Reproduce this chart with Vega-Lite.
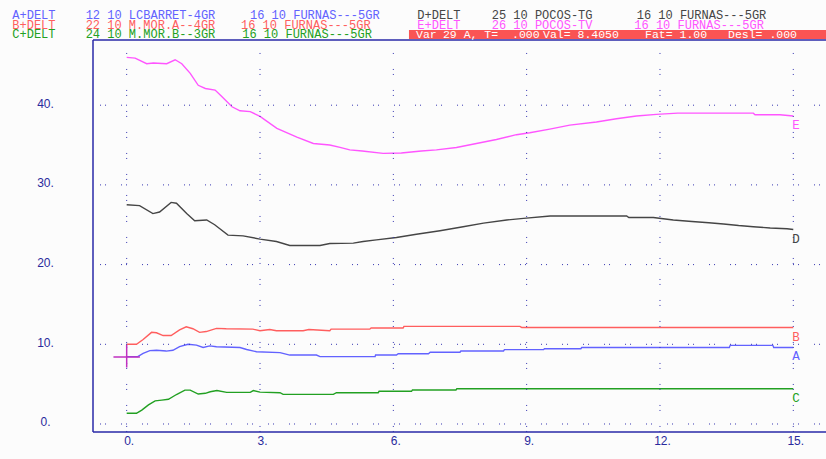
{
  "$schema": "https://vega.github.io/schema/vega-lite/v6.json",
  "width": 733,
  "height": 392,
  "padding": {"left": 93, "top": 40, "right": 0, "bottom": 27},
  "autosize": {"type": "none"},
  "background": "#fcfcfc",
  "config": {
    "view": {"stroke": null},
    "font": "Liberation Sans",
    "axis": {"domain": false, "ticks": false, "tickSize": 0, "grid": false, "labelColor": "#2a2a9c", "labelFont": "Liberation Sans", "labelFontSize": 12, "labelFlush": false, "labelOverlap": false, "labelBound": false}
  },
  "datasets": {
    "series": [
      {"s":"A","t":0,"v":8.45},{"s":"A","t":0.25,"v":8.45},{"s":"A","t":0.37,"v":8.85},{"s":"A","t":0.52,"v":9.2},{"s":"A","t":0.67,"v":9.25},{"s":"A","t":0.89,"v":9.15},{"s":"A","t":1.04,"v":9.25},{"s":"A","t":1.19,"v":9.7},{"s":"A","t":1.38,"v":10.0},{"s":"A","t":1.57,"v":9.9},{"s":"A","t":1.72,"v":9.6},{"s":"A","t":1.87,"v":9.8},{"s":"A","t":2.02,"v":9.7},{"s":"A","t":2.55,"v":9.6},{"s":"A","t":2.7,"v":9.35},{"s":"A","t":2.92,"v":9.07},{"s":"A","t":3.45,"v":8.95},{"s":"A","t":3.67,"v":8.65},{"s":"A","t":4.27,"v":8.65},{"s":"A","t":4.35,"v":8.45},{"s":"A","t":5.59,"v":8.45},{"s":"A","t":5.6,"v":8.65},{"s":"A","t":6.07,"v":8.65},{"s":"A","t":6.11,"v":8.82},{"s":"A","t":6.79,"v":8.82},{"s":"A","t":6.83,"v":9.0},{"s":"A","t":7.5,"v":9.0},{"s":"A","t":7.52,"v":9.16},{"s":"A","t":8.48,"v":9.16},{"s":"A","t":8.5,"v":9.33},{"s":"A","t":9.38,"v":9.33},{"s":"A","t":9.4,"v":9.45},{"s":"A","t":10.22,"v":9.45},{"s":"A","t":10.24,"v":9.6},{"s":"A","t":13.56,"v":9.6},{"s":"A","t":13.58,"v":9.87},{"s":"A","t":14.54,"v":9.87},{"s":"A","t":14.56,"v":9.6},{"s":"A","t":15,"v":9.6},
      {"s":"B","t":0,"v":10.0},{"s":"B","t":0.22,"v":10.0},{"s":"B","t":0.37,"v":10.6},{"s":"B","t":0.56,"v":11.5},{"s":"B","t":0.67,"v":11.45},{"s":"B","t":0.82,"v":11.1},{"s":"B","t":1.0,"v":11.1},{"s":"B","t":1.19,"v":11.8},{"s":"B","t":1.34,"v":12.2},{"s":"B","t":1.49,"v":11.95},{"s":"B","t":1.64,"v":11.5},{"s":"B","t":1.79,"v":11.6},{"s":"B","t":2.02,"v":12.0},{"s":"B","t":2.24,"v":11.95},{"s":"B","t":2.84,"v":11.9},{"s":"B","t":3.0,"v":11.7},{"s":"B","t":3.22,"v":11.85},{"s":"B","t":3.37,"v":11.7},{"s":"B","t":3.97,"v":11.7},{"s":"B","t":4.1,"v":11.85},{"s":"B","t":4.57,"v":11.7},{"s":"B","t":4.6,"v":11.9},{"s":"B","t":5.47,"v":11.9},{"s":"B","t":5.5,"v":12.05},{"s":"B","t":6.22,"v":12.05},{"s":"B","t":6.24,"v":12.25},{"s":"B","t":8.85,"v":12.25},{"s":"B","t":8.89,"v":12.1},{"s":"B","t":15,"v":12.1},
      {"s":"C","t":0,"v":1.34},{"s":"C","t":0.22,"v":1.34},{"s":"C","t":0.34,"v":1.75},{"s":"C","t":0.49,"v":2.4},{"s":"C","t":0.64,"v":2.9},{"s":"C","t":0.79,"v":3.0},{"s":"C","t":0.94,"v":3.1},{"s":"C","t":1.12,"v":3.7},{"s":"C","t":1.31,"v":4.25},{"s":"C","t":1.43,"v":4.25},{"s":"C","t":1.61,"v":3.76},{"s":"C","t":1.77,"v":3.85},{"s":"C","t":1.88,"v":4.05},{"s":"C","t":2.03,"v":4.2},{"s":"C","t":2.25,"v":3.97},{"s":"C","t":2.78,"v":3.97},{"s":"C","t":2.85,"v":4.2},{"s":"C","t":3.0,"v":4.0},{"s":"C","t":3.45,"v":3.93},{"s":"C","t":3.52,"v":3.72},{"s":"C","t":4.65,"v":3.72},{"s":"C","t":4.72,"v":3.93},{"s":"C","t":5.66,"v":3.93},{"s":"C","t":5.68,"v":4.1},{"s":"C","t":6.41,"v":4.1},{"s":"C","t":6.43,"v":4.27},{"s":"C","t":7.41,"v":4.27},{"s":"C","t":7.43,"v":4.43},{"s":"C","t":15,"v":4.43},
      {"s":"D","t":0,"v":27.5},{"s":"D","t":0.29,"v":27.4},{"s":"D","t":0.59,"v":26.4},{"s":"D","t":0.74,"v":26.6},{"s":"D","t":1.0,"v":27.8},{"s":"D","t":1.12,"v":27.7},{"s":"D","t":1.35,"v":26.4},{"s":"D","t":1.53,"v":25.5},{"s":"D","t":1.8,"v":25.6},{"s":"D","t":1.98,"v":25.0},{"s":"D","t":2.28,"v":23.7},{"s":"D","t":2.62,"v":23.6},{"s":"D","t":3.0,"v":23.2},{"s":"D","t":3.37,"v":22.9},{"s":"D","t":3.67,"v":22.4},{"s":"D","t":4.35,"v":22.4},{"s":"D","t":4.57,"v":22.65},{"s":"D","t":5.1,"v":22.7},{"s":"D","t":5.32,"v":22.9},{"s":"D","t":5.62,"v":23.1},{"s":"D","t":6.07,"v":23.4},{"s":"D","t":6.52,"v":23.8},{"s":"D","t":7.05,"v":24.25},{"s":"D","t":7.57,"v":24.75},{"s":"D","t":8.03,"v":25.2},{"s":"D","t":8.55,"v":25.6},{"s":"D","t":8.93,"v":25.8},{"s":"D","t":9.53,"v":26.1},{"s":"D","t":11.25,"v":26.1},{"s":"D","t":11.3,"v":25.9},{"s":"D","t":11.85,"v":25.9},{"s":"D","t":12.3,"v":25.6},{"s":"D","t":12.72,"v":25.4},{"s":"D","t":13.1,"v":25.25},{"s":"D","t":13.43,"v":25.1},{"s":"D","t":13.77,"v":24.9},{"s":"D","t":14.1,"v":24.75},{"s":"D","t":14.48,"v":24.6},{"s":"D","t":14.86,"v":24.5},{"s":"D","t":15,"v":24.4},
      {"s":"E","t":0,"v":46.0},{"s":"E","t":0.19,"v":45.9},{"s":"E","t":0.45,"v":45.2},{"s":"E","t":0.6,"v":45.3},{"s":"E","t":0.9,"v":45.2},{"s":"E","t":1.09,"v":45.7},{"s":"E","t":1.24,"v":45.2},{"s":"E","t":1.43,"v":44.0},{"s":"E","t":1.61,"v":42.5},{"s":"E","t":1.77,"v":42.1},{"s":"E","t":1.99,"v":41.9},{"s":"E","t":2.14,"v":41.1},{"s":"E","t":2.37,"v":39.8},{"s":"E","t":2.55,"v":39.3},{"s":"E","t":2.78,"v":39.2},{"s":"E","t":3.0,"v":38.6},{"s":"E","t":3.38,"v":37.1},{"s":"E","t":3.83,"v":36.0},{"s":"E","t":4.2,"v":35.2},{"s":"E","t":4.57,"v":35.0},{"s":"E","t":4.8,"v":34.7},{"s":"E","t":5.02,"v":34.4},{"s":"E","t":5.3,"v":34.25},{"s":"E","t":5.77,"v":33.96},{"s":"E","t":6.18,"v":34.0},{"s":"E","t":6.63,"v":34.25},{"s":"E","t":6.97,"v":34.4},{"s":"E","t":7.42,"v":34.7},{"s":"E","t":7.87,"v":35.2},{"s":"E","t":8.32,"v":35.7},{"s":"E","t":8.77,"v":36.3},{"s":"E","t":9.07,"v":36.55},{"s":"E","t":9.52,"v":37.0},{"s":"E","t":9.97,"v":37.5},{"s":"E","t":10.57,"v":37.9},{"s":"E","t":11.02,"v":38.3},{"s":"E","t":11.47,"v":38.65},{"s":"E","t":11.92,"v":38.85},{"s":"E","t":12.4,"v":39.0},{"s":"E","t":14.1,"v":39.0},{"s":"E","t":14.14,"v":38.8},{"s":"E","t":14.7,"v":38.8},{"s":"E","t":15,"v":38.65}
    ],
    "header": [
      {"s":"A","t":-2.574,"v":51.32,"text":"A+DELT"},
      {"s":"A","t":-0.923,"v":51.32,"text":"12 10 LCBARRET-4GR"},
      {"s":"A","t":2.775,"v":51.32,"text":"16 10 FURNAS---5GR"},
      {"s":"B","t":-2.574,"v":50.1,"text":"B+DELT"},
      {"s":"B","t":-0.923,"v":50.1,"text":"22 10 M.MOR.A--4GR"},
      {"s":"B","t":2.572,"v":50.1,"text":"16 10 FURNAS---5GR"},
      {"s":"C","t":-2.574,"v":48.91,"text":"C+DELT"},
      {"s":"C","t":-0.923,"v":48.91,"text":"24 10 M.MOR.B--3GR"},
      {"s":"C","t":2.6,"v":48.91,"text":"16 10 FURNAS---5GR"},
      {"s":"D","t":6.539,"v":51.32,"text":"D+DELT"},
      {"s":"D","t":8.213,"v":51.32,"text":"25 10 POCOS-TG"},
      {"s":"D","t":11.476,"v":51.32,"text":"16 10 FURNAS---5GR"},
      {"s":"E","t":6.539,"v":50.1,"text":"E+DELT"},
      {"s":"E","t":8.213,"v":50.1,"text":"26 10 POCOS-TV"},
      {"s":"E","t":11.422,"v":50.1,"text":"16 10 FURNAS---5GR"}
    ],
    "info": [
      {"t":6.51,"v":48.77,"text":"Var"},
      {"t":7.117,"v":48.77,"text":"29 A, T="},
      {"t":8.67,"v":48.77,"text":".000"},
      {"t":9.368,"v":48.77,"text":"Val= 8.4050"},
      {"t":11.663,"v":48.77,"text":"Fat= 1.00"},
      {"t":13.531,"v":48.77,"text":"Desl= .000"}
    ],
    "hgrid": [{"v":0},{"v":10},{"v":20},{"v":30},{"v":40}],
    "vgrid": [{"t":0},{"t":3},{"t":6},{"t":9},{"t":12},{"t":15}],
    "cursor": [{"t":0,"v":8.405}]
  },
  "layer": [
    {
      "data": {"name": "series"},
      "mark": {"type": "line", "strokeWidth": 1.4},
      "encoding": {
        "x": {"field": "t", "type": "quantitative", "scale": {"domain": [-0.758, 15.736], "nice": false, "zero": false},
          "axis": {"values": [0, 3, 6, 9, 12, 15], "labelExpr": "datum.value + '.'", "title": null, "domain": false, "ticks": false, "grid": false, "labelPadding": 3, "labelOffset": 2}},
        "y": {"field": "v", "type": "quantitative", "scale": {"domain": [-1.004, 48.18], "nice": false, "zero": false},
          "axis": {"values": [0, 10, 20, 30, 40], "labelExpr": "datum.value + '.'", "title": null, "domain": false, "ticks": false, "grid": false, "labelPadding": 0, "offset": 48, "labelAlign": "center", "labelBaseline": "middle", "labelOffset": -2}},
        "color": {"field": "s", "type": "nominal", "scale": {"domain": ["A", "B", "C", "D", "E"], "range": ["#6262ff", "#ff5e5e", "#22a022", "#454545", "#ff55ff"]}, "legend": null}
      }
    },
    {
      "data": {"name": "hgrid"},
      "mark": {"type": "rule", "color": "#3434b0", "strokeDash": [1, 4, 1, 15], "strokeWidth": 1},
      "encoding": {
        "y": {"field": "v", "type": "quantitative", "scale": {"domain": [-1.004, 48.18], "nice": false, "zero": false}},
        "x": {"datum": -0.6, "type": "quantitative", "scale": {"domain": [-0.758, 15.736], "nice": false, "zero": false}},
        "x2": {"datum": 15.736}
      }
    },
    {
      "data": {"name": "vgrid"},
      "mark": {"type": "rule", "color": "#3434b0", "strokeDash": [1, 4, 1, 15], "strokeWidth": 1},
      "encoding": {
        "x": {"field": "t", "type": "quantitative", "scale": {"domain": [-0.758, 15.736], "nice": false, "zero": false}},
        "y": {"datum": -1.0, "type": "quantitative", "scale": {"domain": [-1.004, 48.18], "nice": false, "zero": false}},
        "y2": {"datum": 47.0}
      }
    },
    {
      "data": {"values": [{}]},
      "mark": {"type": "rule", "color": "#2a2aa8", "strokeWidth": 1.5},
      "encoding": {
        "x": {"datum": -0.758, "type": "quantitative", "scale": {"domain": [-0.758, 15.736], "nice": false, "zero": false}},
        "y": {"datum": -1.004, "type": "quantitative", "scale": {"domain": [-1.004, 48.18], "nice": false, "zero": false}},
        "y2": {"datum": 48.18}
      }
    },
    {
      "data": {"values": [{"v": -1.004}, {"v": 48.18}]},
      "mark": {"type": "rule", "color": "#2a2aa8", "strokeWidth": 1.5},
      "encoding": {
        "y": {"field": "v", "type": "quantitative", "scale": {"domain": [-1.004, 48.18], "nice": false, "zero": false}},
        "x": {"datum": -0.758, "type": "quantitative", "scale": {"domain": [-0.758, 15.736], "nice": false, "zero": false}},
        "x2": {"datum": 15.736}
      }
    },
    {
      "data": {"values": [{}]},
      "mark": {"type": "rect", "color": "#fa5454"},
      "encoding": {
        "x": {"datum": 6.352, "type": "quantitative", "scale": {"domain": [-0.758, 15.736], "nice": false, "zero": false}},
        "x2": {"datum": 15.736},
        "y": {"datum": 49.44, "type": "quantitative", "scale": {"domain": [-1.004, 48.18], "nice": false, "zero": false}},
        "y2": {"datum": 48.31}
      }
    },
    {
      "data": {"name": "info"},
      "mark": {"type": "text", "align": "left", "baseline": "middle", "font": "Liberation Mono", "fontSize": 11.5, "color": "#ffffff"},
      "encoding": {
        "x": {"field": "t", "type": "quantitative", "scale": {"domain": [-0.758, 15.736], "nice": false, "zero": false}},
        "y": {"field": "v", "type": "quantitative", "scale": {"domain": [-1.004, 48.18], "nice": false, "zero": false}},
        "text": {"field": "text"}
      }
    },
    {
      "data": {"name": "header"},
      "mark": {"type": "text", "align": "left", "baseline": "middle", "font": "Liberation Mono", "fontSize": 12},
      "encoding": {
        "x": {"field": "t", "type": "quantitative", "scale": {"domain": [-0.758, 15.736], "nice": false, "zero": false}},
        "y": {"field": "v", "type": "quantitative", "scale": {"domain": [-1.004, 48.18], "nice": false, "zero": false}},
        "text": {"field": "text"},
        "color": {"field": "s", "type": "nominal", "scale": {"domain": ["A", "B", "C", "D", "E"], "range": ["#6262ff", "#ff5e5e", "#22a022", "#454545", "#ff55ff"]}, "legend": null}
      }
    },
    {
      "data": {"name": "series"},
      "transform": [{"filter": "datum.t == 15"}],
      "mark": {"type": "text", "align": "left", "baseline": "top", "dx": -1, "dy": 3, "font": "Liberation Mono", "fontSize": 12.5},
      "encoding": {
        "x": {"field": "t", "type": "quantitative", "scale": {"domain": [-0.758, 15.736], "nice": false, "zero": false}},
        "y": {"field": "v", "type": "quantitative", "scale": {"domain": [-1.004, 48.18], "nice": false, "zero": false}},
        "text": {"field": "s"},
        "color": {"field": "s", "type": "nominal", "scale": {"domain": ["A", "B", "C", "D", "E"], "range": ["#6262ff", "#ff5e5e", "#22a022", "#454545", "#ff55ff"]}, "legend": null}
      }
    },
    {
      "data": {"name": "cursor"},
      "mark": {"type": "point", "shape": "M-1,0H1M0,-0.9V0.8", "filled": false, "color": "#c030c0", "strokeWidth": 1.5, "size": 700, "opacity": 1},
      "encoding": {
        "x": {"field": "t", "type": "quantitative", "scale": {"domain": [-0.758, 15.736], "nice": false, "zero": false}},
        "y": {"field": "v", "type": "quantitative", "scale": {"domain": [-1.004, 48.18], "nice": false, "zero": false}}
      }
    }
  ]
}
